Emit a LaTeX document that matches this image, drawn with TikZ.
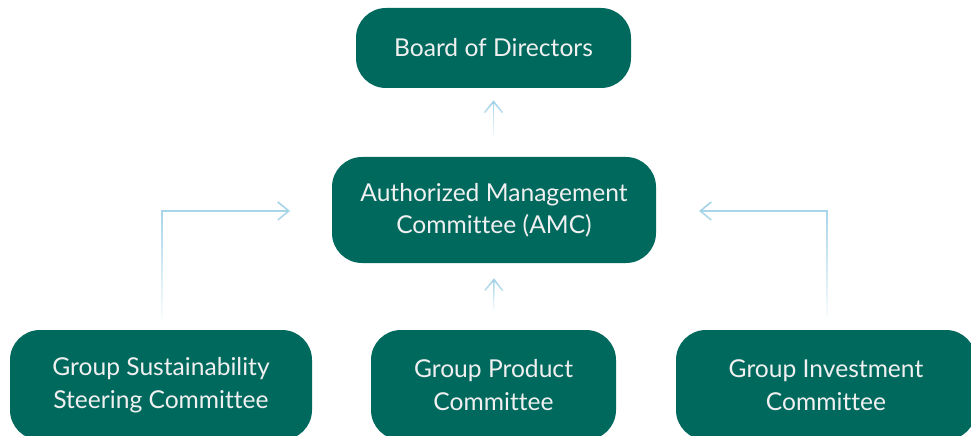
\documentclass[tikz,border=0pt]{standalone}
\usepackage{fontspec}
\setmainfont{Lato}[Ligatures=NoCommon]
\usepackage{tikz}
\usetikzlibrary{arrows.meta,fadings}
\definecolor{amc_teal}{HTML}{00695E}
\definecolor{line_blue}{HTML}{9CCFE6}
\tikzfading[name=fadedown, top color=transparent!0, bottom color=transparent!95]

\begin{document}
\begin{tikzpicture}[>={Straight Barb[length=2.2mm,width=3.6mm,line width=0.9pt]},
    box/.style={fill=amc_teal, rounded corners=0.6cm, text=white!94!black,
        align=center, font=\fontsize{14}{18.5}\selectfont, inner sep=0pt},
    link/.style={->, line_blue, line width=0.9pt, path fading=fadedown}]

    \useasboundingbox (0,0) rectangle (19.42,-8.72);

    % Les boites
    \node[box, minimum width=5.5cm, minimum height=1.6cm] (board) at (9.87,-0.96) {Board of Directors};
    \node[box, minimum width=6.48cm, minimum height=2.12cm] (amc) at (9.88,-4.2) {Authorized Management\\Committee (AMC)};
    \node[box, minimum width=6.04cm, minimum height=2.2cm] (gssc) at (3.22,-7.7) {Group Sustainability\\Steering Committee};
    \node[box, minimum width=4.9cm, minimum height=2.2cm] (gpc) at (9.87,-7.7) {Group Product\\Committee};
    \node[box, minimum width=6.0cm, minimum height=2.2cm] (gic) at (16.52,-7.7) {Group Investment\\Committee};

    % Les points de depart et d'arrivee des fleches
    \coordinate (amcin) at (9.87,-2.74);
    \coordinate (gpcout) at (9.87,-6.2);
    \coordinate (gssctop) at (3.24,-6.36);
    \coordinate (gictop) at (16.54,-6.36);
    \coordinate (amcleft) at (5.8,-4.22);
    \coordinate (amcright) at (13.98,-4.22);

    % Les fleches (les points en plus elargissent la zone du fondu pour la pointe)
    \draw[link] ([xshift=-3mm]amcin) ([xshift=3mm]amcin) (amcin) -- ([yshift=-0.24cm]board.south);
    \draw[link] ([xshift=-3mm]gpcout) ([xshift=3mm]gpcout) (gpcout) -- ([yshift=-0.3cm]amc.south);
    \draw[link] ([yshift=3mm]amcleft) (gssctop) |- (amcleft);
    \draw[link] ([yshift=3mm]amcright) (gictop) |- (amcright);
\end{tikzpicture}
\end{document}
